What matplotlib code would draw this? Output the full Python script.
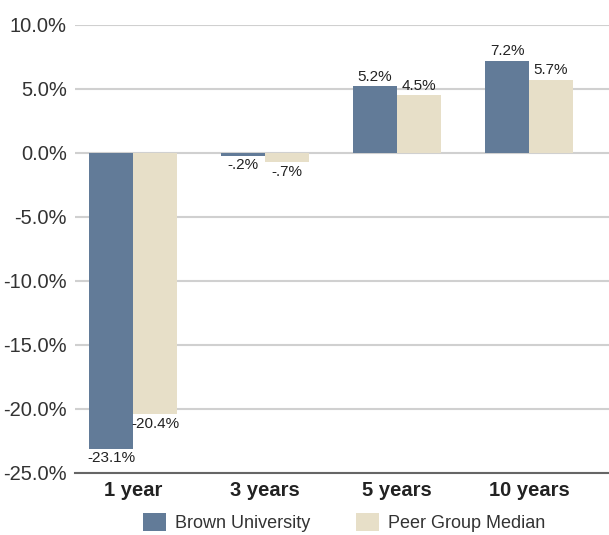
import matplotlib
matplotlib.use("Agg")
import matplotlib.pyplot as plt
from matplotlib import font_manager as fm
import numpy as np

categories = ["1 year", "3 years", "5 years", "10 years"]
brown = [-23.1, -0.2, 5.2, 7.2]
peer = [-20.4, -0.7, 4.5, 5.7]
brown_labels = ["-23.1%", "-.2%", "5.2%", "7.2%"]
peer_labels = ["-20.4%", "-.7%", "4.5%", "5.7%"]
yticks = [10, 5, 0, -5, -10, -15, -20, -25]
ytick_labels = ["10.0%", "5.0%", "0.0%", "-5.0%", "-10.0%", "-15.0%", "-20.0%", "-25.0%"]

names = {f.name for f in fm.fontManager.ttflist}
fam = ["Liberation Sans Narrow", "Liberation Sans", "DejaVu Sans"]
fam = [f for f in fam if f in names] or ["DejaVu Sans"]
plt.rcParams['font.family'] = fam

c_brown = "#627B98"
c_peer = "#E7DFC8"

fig = plt.figure(figsize=(6.09, 5.35), dpi=100)
ax = fig.add_axes([75/609, 1-473/535, 534/609, (473-25)/535])

x = np.arange(len(categories))
w = 1/3
ax.bar(x - w/2, brown, w, color=c_brown, label="Brown University", zorder=3)
ax.bar(x + w/2, peer, w, color=c_peer, label="Peer Group Median", zorder=3)

for i in range(len(categories)):
    for val, lab, off in ((brown[i], brown_labels[i], -w/2), (peer[i], peer_labels[i], w/2)):
        if val >= 0:
            ax.annotate(lab, (x[i]+off, val), xytext=(0, 2), textcoords="offset points",
                        ha="center", va="bottom", fontsize=11, color="#222222")
        else:
            ax.annotate(lab, (x[i]+off, val), xytext=(0, -2), textcoords="offset points",
                        ha="center", va="top", fontsize=11, color="#222222")

ax.set_xlim(-0.44, 3.606)
ax.set_ylim(-25, 10)
ax.set_yticks(yticks)
ax.set_yticklabels(ytick_labels, fontsize=14.5, color="#333333")
ax.set_xticks(x)
ax.set_xticklabels(categories, fontsize=14.5, fontweight="bold", color="#222222")
ax.tick_params(axis="both", length=0)
ax.tick_params(axis="y", pad=6)
ax.tick_params(axis="x", pad=6)
for s in ["top", "right", "left"]:
    ax.spines[s].set_visible(False)
ax.spines["bottom"].set_color("#666666")
ax.spines["bottom"].set_linewidth(1.5)
ax.spines["bottom"].set_zorder(4)
ax.grid(axis="y", color="#D0D0D0", linewidth=1.5, zorder=0)
ax.set_axisbelow(True)

fig.legend(loc="lower center", bbox_to_anchor=(0.565, -0.025), ncol=2, frameon=False,
           fontsize=13, handlelength=1.3, handleheight=1.1, columnspacing=2.5,
           handletextpad=0.5, labelcolor="#333333")

fig.savefig("out.png", dpi=100)
